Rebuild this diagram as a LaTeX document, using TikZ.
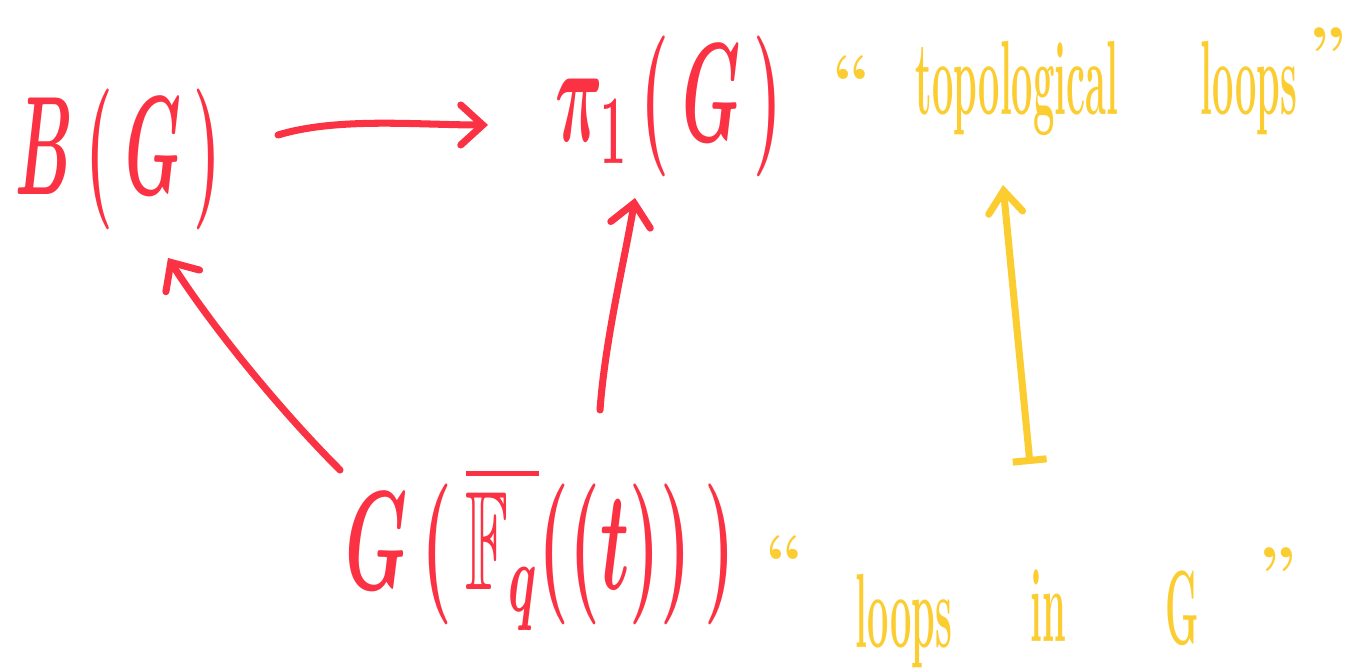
\documentclass[tikz,border=0pt]{standalone}
\usepackage{fix-cm}
\usepackage{fontspec}
\usepackage{amssymb}
\usepackage{graphicx}
\usetikzlibrary{arrows.meta,calc}
\definecolor{hred}{RGB}{250,50,68}
\definecolor{hyel}{RGB}{252,205,48}
\begin{document}
\begin{tikzpicture}[x=0.01cm,y=-0.01cm,
  mred/.style={text=hred,inner sep=0,anchor=base west,font=\fontsize{25}{30}\selectfont\boldmath},
  wy/.style={text=hyel,inner sep=0,anchor=base west,font=\fontsize{15}{18}\selectfont\bfseries},
  qy/.style={text=hyel,inner sep=0,font=\fontsize{20}{24}\selectfont\bfseries},
  rarr/.style={draw=hred,line width=2pt,line cap=round,-{Straight Barb[length=2.2mm,width=4mm,line cap=round]}},
  yarr/.style={draw=hyel,line width=2pt,line cap=round,{Bar[width=3.4mm]}-{Straight Barb[length=2.2mm,width=3.4mm,line cap=round]}}]
\useasboundingbox[fill=white] (0,0) rectangle (1349,671);
% red math
\node[mred] (BG) at (15,195) {\scalebox{0.72}[1.6]{$B\,(\,G\,)$}};
\node[mred] (PI) at (555,142) {\scalebox{0.75}[1.6]{$\pi_1\,(\,G\,)$}};
\node[mred] (GF) at (345,590) {\scalebox{0.8}[1.6]{$G\,(\,\overline{\mathbb{F}_q}((t))\,)$}};
% yellow text
\node[qy] (q1) at (852,80) {``};
\node[wy] (topo) at (915,115) {\scalebox{0.72}[2]{topological}};
\node[wy] (loops1) at (1200,115) {\scalebox{0.72}[2]{loops}};
\node[qy] (q2) at (1328,52) {''};
\node[qy] (q3) at (785,560) {``};
\node[wy] (loops2) at (855,648) {\scalebox{0.72}[2]{loops}};
\node[wy] (in) at (1030,642) {\scalebox{0.72}[2]{in}};
\node[wy] (G2) at (1165,645) {\scalebox{0.72}[2]{G}};
\node[qy] (q4) at (1278,572) {''};
% red arrows
\draw[rarr] ($(BG.base west)+(263,-60)$) .. controls +(60,-18) and +(-70,0) .. ($(PI.base west)+(-67,-17)$);
\draw[rarr] ($(GF.base west)+(-5,-120)$) .. controls +(-60,-60) and +(45,70) .. ($(BG.base west)+(153,63)$);
\draw[rarr] ($(GF.base west)+(255,-180)$) .. controls +(5,-70) and +(-10,60) .. ($(PI.base west)+(80,56)$);
% yellow maps-to
\draw[yarr] ($(in.base west)+(0,-178)$) -- ($(topo.base west)+(88,70)$);
\end{tikzpicture}
\end{document}
